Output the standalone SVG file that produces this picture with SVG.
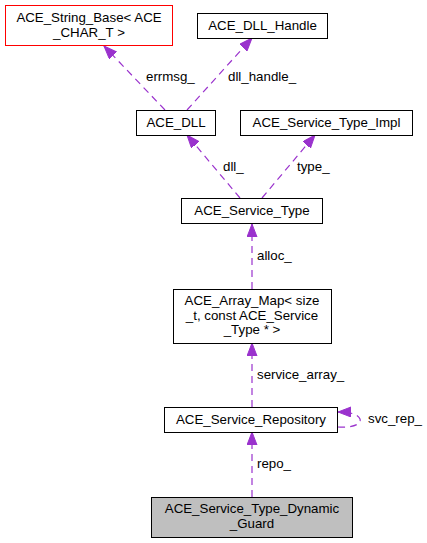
<svg xmlns="http://www.w3.org/2000/svg" width="427" height="543" viewBox="0 0 427 543">
<style>
.n rect{fill:#fff;stroke:#000;stroke-width:1}
.n text{font-family:"Liberation Sans",Arial,sans-serif;font-size:13.3px;text-anchor:middle;fill:#000}
.e path{fill:none;stroke:#9a32cd;stroke-width:1.2;stroke-dasharray:7,5}
.l{font-family:"Liberation Sans",Arial,sans-serif;font-size:13.3px;fill:#000}
</style>
<defs>
<marker id="a" markerUnits="userSpaceOnUse" markerWidth="14" markerHeight="11" refX="13" refY="5" orient="auto">
<path d="M0,0 L13,5 L0,10 z" fill="#9a32cd" stroke="#9a32cd" stroke-width="1"/>
</marker>
</defs>
<rect width="427" height="543" fill="#fff"/>
<g class="e" id="edges">
<path d="M165,110 L104,46" marker-end="url(#a)"/>
<path d="M187,110 L252,38" marker-end="url(#a)"/>
<path d="M240,198 L187,135" marker-end="url(#a)"/>
<path d="M262,198 L315,135" marker-end="url(#a)"/>
<path d="M252,289 L252,224" marker-end="url(#a)"/>
<path d="M252,407 L252,343" marker-end="url(#a)"/>
<path d="M252,497 L252,432" marker-end="url(#a)"/>
<path d="M338,427 C350,428 362,425 360,419 C358,414 350,412 338,412" marker-end="url(#a)"/>
</g>
<g id="labels">
<text class="l" x="146" y="81">errmsg_</text>
<text class="l" x="228" y="81">dll_handle_</text>
<text class="l" x="223" y="171">dll_</text>
<text class="l" x="297" y="171">type_</text>
<text class="l" x="257" y="260">alloc_</text>
<text class="l" x="257" y="379">service_array_</text>
<text class="l" x="368" y="423">svc_rep_</text>
<text class="l" x="257" y="468">repo_</text>
</g>
<g class="n" id="node_string_base">
<rect x="5.5" y="5.5" width="167" height="40" style="stroke:#ff0000"/>
<text x="89" y="22">ACE_String_Base&lt; ACE</text>
<text x="89" y="37">_CHAR_T &gt;</text>
</g>
<g class="n" id="node_dll_handle">
<rect x="197.5" y="13.5" width="130" height="25"/>
<text x="262.5" y="30">ACE_DLL_Handle</text>
</g>
<g class="n" id="node_dll">
<rect x="136.5" y="110.5" width="79" height="25"/>
<text x="176" y="127">ACE_DLL</text>
</g>
<g class="n" id="node_service_type_impl">
<rect x="240.5" y="110.5" width="172" height="25"/>
<text x="326.5" y="127">ACE_Service_Type_Impl</text>
</g>
<g class="n" id="node_service_type">
<rect x="181.5" y="198.5" width="141" height="25"/>
<text x="252" y="215">ACE_Service_Type</text>
</g>
<g class="n" id="node_array_map">
<rect x="173.5" y="289.5" width="158" height="54"/>
<text x="252" y="305">ACE_Array_Map&lt; size</text>
<text x="252" y="319.5">_t, const ACE_Service</text>
<text x="252" y="334">_Type * &gt;</text>
</g>
<g class="n" id="node_repository">
<rect x="164.5" y="407.5" width="173" height="25"/>
<text x="251" y="424">ACE_Service_Repository</text>
</g>
<g class="n" id="node_dynamic_guard">
<rect x="151.5" y="497.5" width="201" height="40" style="fill:#bfbfbf"/>
<text x="252" y="513">ACE_Service_Type_Dynamic</text>
<text x="252" y="528">_Guard</text>
</g>
</svg>
